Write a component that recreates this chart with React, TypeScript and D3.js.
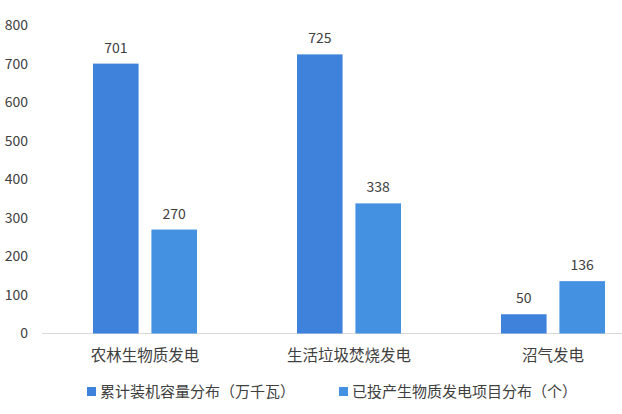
import React from "react";
import * as d3 from "d3";

const categories = ["农林生物质发电", "生活垃圾焚烧发电", "沼气发电"];
const seriesNames = ["累计装机容量分布（万千瓦）", "已投产生物质发电项目分布（个）"];
const capacity = [701, 725, 50];
const projects = [270, 338, 136];
const yTicks = [0, 100, 200, 300, 400, 500, 600, 700, 800];
const colors = ["#3f82dc", "#4491e2"];

const W = 622;
const H = 414;
const FONT = "'Noto Sans CJK SC', 'Noto Sans', sans-serif";

export default function App() {
  const x = d3.scaleBand<string>().domain(categories).range([43, 655]).paddingInner(0).paddingOuter(0);
  const x1 = d3.scaleBand<number>().domain([0, 1]).range([0, 104]).paddingInner(0.22);
  const y = d3.scaleLinear().domain([0, 800]).range([333.5, 25.5]);
  const series = [capacity, projects];
  const bw = x.bandwidth();
  return (
    <svg width={W} height={H} style={{ position: "absolute", left: 0, top: 0, background: "#fff" }} fontFamily={FONT}>
      {yTicks.map((t) => (
        <text key={t} x={28} y={y(t)} dy="0.35em" textAnchor="end" fontSize={14} fill="#404040">
          {t}
        </text>
      ))}
      <line x1={42} x2={622} y1={y(0)} y2={y(0)} stroke="#d9d9d9" strokeWidth={1} />
      {categories.map((c, i) => {
        const gx = (x(c) as number) + (bw - 104) / 2;
        return (
          <g key={c}>
            {series.map((s, si) => {
              const bx = gx + (x1(si) as number);
              return (
                <g key={si}>
                  <rect x={bx} y={y(s[i])} width={x1.bandwidth()} height={y(0) - y(s[i])} fill={colors[si]} />
                  <text x={bx + x1.bandwidth() / 2} y={y(s[i]) - 11} textAnchor="middle" fontSize={14} fill="#404040">
                    {s[i]}
                  </text>
                </g>
              );
            })}
            <text x={(x(c) as number) + bw / 2} y={356} dy="0.35em" textAnchor="middle" fontSize={15.5} fill="#404040">
              {c}
            </text>
          </g>
        );
      })}
      {seriesNames.map((n, si) => {
        const lx = si === 0 ? 87 : 339;
        return (
          <g key={n}>
            <rect x={lx} y={387} width={9} height={9} fill={colors[si]} />
            <text x={lx + 13} y={391.5} dy="0.35em" fontSize={15} fill="#404040">
              {n}
            </text>
          </g>
        );
      })}
    </svg>
  );
}
